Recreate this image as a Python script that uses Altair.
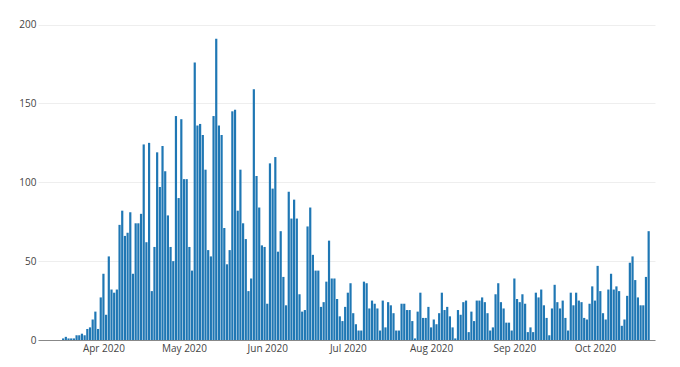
import altair as alt
import pandas as pd

start_date = "2020-03-10"

mar = [0, 0, 0, 0, 0, 0, 0, 1, 2, 1, 1, 1, 3, 3, 4, 3, 7, 8, 13, 18, 7, 27]
apr = [42, 16, 53, 32, 30, 32, 73, 82, 66, 68, 81, 42, 74, 74, 80, 124, 62, 125, 31, 59,
       119, 97, 123, 107, 79, 59, 50, 142, 90, 140]
may = [102, 102, 59, 44, 176, 136, 137, 130, 108, 57, 53, 142, 191, 136, 130, 71, 48, 57,
       145, 146, 82, 108, 74, 64, 31, 39, 159, 104, 84, 60, 59]
jun = [23, 112, 96, 116, 56, 69, 40, 22, 94, 77, 89, 77, 29, 18, 19, 72, 84, 54, 44, 44,
       21, 24, 37, 63, 39, 39, 26, 15, 12, 21]
jul = [30, 36, 17, 10, 6, 6, 37, 36, 20, 25, 23, 20, 6, 25, 8, 24, 22, 17, 6, 6, 23, 23,
       19, 19, 12, 1, 18, 30, 14, 14, 21]
aug = [8, 13, 10, 17, 30, 19, 21, 15, 8, 1, 19, 16, 24, 25, 5, 18, 12, 25, 25, 27, 24, 17,
       6, 8, 29, 36, 24, 20, 11, 11, 6]
sep = [39, 26, 24, 29, 23, 5, 8, 5, 30, 27, 32, 22, 14, 3, 20, 35, 24, 20, 25, 14, 6, 30,
       22, 30, 25, 24, 14, 13, 23, 34]
oct_ = [25, 47, 31, 17, 13, 32, 42, 32, 34, 31, 9, 13, 28, 49, 53, 38, 27, 22, 22, 40, 69]

values = mar + apr + may + jun + jul + aug + sep + oct_
dates = pd.date_range(start_date, periods=len(values), freq="D").strftime("%Y-%m-%d")
df = pd.DataFrame({"date": list(dates), "count": values})

tick_months = [4, 5, 6, 7, 8, 9, 10]
y_ticks = [0, 50, 100, 150, 200]

FONT = "Open Sans"

chart = alt.Chart(df).mark_bar(width=2.2, color="#1f77b4").encode(
    x=alt.X(
        "date:T",
        scale=alt.Scale(
            type="utc",
            domain=[
                alt.DateTime(year=2020, month=3, date=9, hours=12, utc=True),
                alt.DateTime(year=2020, month=10, date=21, hours=12, utc=True),
            ],
        ),
        axis=alt.Axis(
            values=[alt.DateTime(year=2020, month=m, date=1, utc=True) for m in tick_months],
            labelExpr="utcFormat(datum.value, '%b %Y')",
            grid=False,
            ticks=False,
            domainColor="#888",
            domainWidth=1,
            labelPadding=3,
            labelFont=FONT,
            labelFontSize=10,
            labelColor="#444",
            title=None,
        ),
    ),
    y=alt.Y(
        "count:Q",
        scale=alt.Scale(domain=[0, 201], nice=False),
        axis=alt.Axis(
            values=y_ticks,
            grid=True,
            gridColor="#eee",
            domain=False,
            ticks=False,
            labelPadding=2,
            labelFont=FONT,
            labelFontSize=10,
            labelColor="#444",
            title=None,
        ),
    ),
).properties(
    width=617,
    height=317,
    autosize=alt.AutoSizeParams(type="none"),
    padding={"left": 30, "top": 15, "right": 17, "bottom": 20},
).configure_view(stroke=None)

chart.save("out.html", embed_options={"renderer": "svg", "actions": False})
